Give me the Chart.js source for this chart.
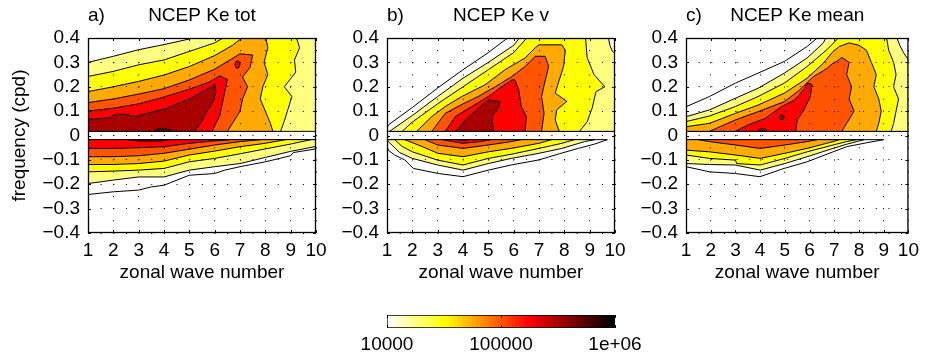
<!DOCTYPE html>
<html>
<head>
<meta charset="utf-8">
<script src="https://cdn.jsdelivr.net/npm/chart.js@4.4.1/dist/chart.umd.min.js"></script>
<style>
  html, body { margin: 0; padding: 0; background: #fff; }
  #wrap { position: relative; width: 925px; height: 360px; }
  #wrap canvas { position: absolute; left: 0; top: 0; }
</style>
</head>
<body>
<div id="wrap">
  <canvas id="pa" width="925" height="360"></canvas>
  <canvas id="pb" width="925" height="360"></canvas>
  <canvas id="pc" width="925" height="360"></canvas>
  <canvas id="cb" width="925" height="360"></canvas>
</div>
<script>
// axes
const waveNumbers = [1, 2, 3, 4, 5, 6, 7, 8, 9, 10];
const freqTicks = [-0.4, -0.3, -0.2, -0.1, 0, 0.1, 0.2, 0.3, 0.4];
// contour levels (energy), index k used below
const levels = [10000, 17783, 31623, 56234, 100000, 177828, 316228, 562341];
const colorbarTicks = [10000, 100000, 1000000];
const colorbarLabels = ['10000', '100000', '1e+06'];
const letters = ['a)', 'b)', 'c)'];
const titles = ['NCEP Ke tot', 'NCEP Ke v', 'NCEP Ke mean'];

// contour outlines: [level index, [[wave number, frequency], ...]]
const totPositive = [
  [1, [[0.9,0.017],[0.9,0.30],[1,0.30],[2,0.325],[3,0.352],[4,0.373],[5,0.396],[5.4,0.41],[10.1,0.41],[10.1,0.017]]],
  [2, [[0.9,0.017],[0.9,0.242],[1,0.242],[2,0.263],[3,0.29],[4,0.31],[5,0.345],[6,0.38],[6.5,0.41],[9.2,0.41],[9.35,0.36],[9.15,0.31],[9.2,0.26],[8.75,0.2],[9.05,0.16],[8.9,0.11],[8.75,0.06],[8.6,0.017]]],
  [3, [[0.9,0.017],[0.9,0.18],[1,0.18],[2,0.2],[3,0.222],[4,0.248],[5,0.283],[6,0.328],[6.7,0.37],[7.2,0.41],[8.0,0.41],[8.1,0.36],[7.95,0.3],[8.1,0.25],[7.9,0.2],[7.8,0.15],[8.0,0.1],[8.2,0.05],[8.3,0.017]]],
  [4, [[0.9,0.017],[0.9,0.135],[1,0.135],[2,0.15],[3,0.17],[4,0.192],[5,0.228],[6,0.272],[6.6,0.31],[7,0.335],[7.5,0.33],[7.4,0.28],[7.1,0.24],[7.3,0.2],[7.1,0.15],[7.0,0.1],[6.7,0.05],[6.5,0.017]]],
  [5, [[6.8,0.29],[6.85,0.305],[6.95,0.305],[7.0,0.29],[6.95,0.277],[6.85,0.277]]],
  [5, [[0.9,0.017],[0.9,0.1],[1,0.1],[2,0.112],[3,0.13],[4,0.158],[5,0.19],[5.8,0.22],[6.2,0.245],[6.5,0.23],[6.4,0.18],[6.3,0.13],[6.2,0.08],[6.0,0.04],[5.9,0.017]]],
  [6, [[0.9,0.017],[0.9,0.067],[1,0.067],[1.8,0.072],[2.1,0.087],[2.5,0.087],[2.8,0.078],[3,0.082],[4,0.108],[5,0.15],[5.7,0.19],[6.0,0.21],[6.05,0.18],[5.9,0.13],[5.7,0.1],[5.5,0.06],[5.2,0.017]]],
  [7, [[3.6,0.017],[3.75,0.027],[4.0,0.03],[4.25,0.022],[4.3,0.017]]]
];
const totNegative = [
  [0, [[0.9,-0.017],[0.9,-0.242],[1,-0.242],[2,-0.231],[3,-0.224],[3.5,-0.211],[4,-0.204],[5,-0.163],[6,-0.156],[6.4,-0.142],[7,-0.128],[8,-0.108],[9,-0.083],[9.1,-0.07],[10,-0.055],[10.1,-0.05],[10.1,-0.017]]],
  [1, [[0.9,-0.017],[0.9,-0.197],[1,-0.197],[2,-0.183],[3,-0.17],[4,-0.17],[5,-0.142],[6,-0.128],[7,-0.115],[8,-0.09],[9,-0.065],[10,-0.045],[10.1,-0.04],[10.1,-0.017]]],
  [2, [[0.9,-0.017],[0.9,-0.149],[1,-0.149],[2,-0.146],[3,-0.142],[4,-0.135],[5,-0.108],[6,-0.094],[7,-0.075],[8,-0.055],[9,-0.035],[9.8,-0.017]]],
  [3, [[0.9,-0.017],[0.9,-0.119],[1,-0.119],[2,-0.119],[3,-0.115],[4,-0.105],[5,-0.08],[6,-0.064],[7,-0.046],[8,-0.032],[8.8,-0.017]]],
  [4, [[0.9,-0.017],[0.9,-0.087],[1,-0.087],[2,-0.087],[3,-0.083],[4,-0.073],[5,-0.056],[6,-0.039],[7,-0.025],[7.8,-0.017]]],
  [5, [[0.9,-0.017],[0.9,-0.053],[1,-0.053],[2,-0.053],[3,-0.05],[4,-0.046],[5,-0.032],[6,-0.022],[6.6,-0.017]]],
  [6, [[2.6,-0.017],[3.0,-0.022],[3.5,-0.024],[4.0,-0.021],[4.2,-0.017]]]
];

const vPositive = [
  [0, [[0.95,0.017],[1.05,0.043],[2,0.115],[3,0.195],[4,0.27],[5,0.34],[5.5,0.38],[5.9,0.41],[10.1,0.41],[10.1,0.017]]],
  [1, [[1.1,0.017],[2,0.082],[3,0.16],[4,0.235],[5,0.3],[6,0.37],[6.3,0.41],[9.72,0.41],[9.8,0.37],[9.9,0.345],[10.1,0.33],[10.1,0.017]]],
  [2, [[1.6,0.017],[2,0.055],[3,0.13],[4,0.2],[5,0.27],[6,0.34],[6.6,0.41],[8.83,0.41],[8.9,0.32],[9.17,0.25],[9.6,0.2],[9.25,0.18],[9.1,0.113],[8.9,0.056],[8.6,0.017]]],
  [3, [[2.17,0.017],[2.77,0.078],[3.3,0.119],[3.95,0.16],[4.87,0.208],[5.66,0.27],[6.45,0.318],[6.85,0.36],[7.0,0.372],[7.9,0.372],[8.04,0.35],[7.97,0.283],[7.8,0.228],[7.64,0.174],[8.1,0.14],[7.7,0.105],[7.64,0.064],[7.8,0.017]]],
  [4, [[2.77,0.017],[3.3,0.091],[4,0.13],[4.6,0.16],[5.27,0.2],[5.93,0.242],[6.45,0.283],[6.85,0.325],[7.24,0.325],[7.38,0.283],[7.25,0.228],[7.1,0.16],[7.2,0.091],[7.1,0.017]]],
  [5, [[3.3,0.017],[3.7,0.078],[4.35,0.119],[5.0,0.16],[5.53,0.2],[5.93,0.228],[6.05,0.228],[6.2,0.187],[6.3,0.119],[6.5,0.078],[6.45,0.017]]],
  [6, [[3.7,0.017],[4.1,0.064],[4.6,0.111],[5.0,0.146],[5.47,0.139],[5.4,0.111],[5.14,0.078],[5.2,0.017]]]
];
const vNegative = [
  [0, [[0.9,-0.017],[1.0,-0.04],[1.05,-0.06],[1.3,-0.08],[1.7,-0.1],[2.04,-0.135],[3.03,-0.156],[4.0,-0.169],[5.0,-0.142],[5.9,-0.121],[7.0,-0.1],[7.8,-0.075],[8.55,-0.053],[9.2,-0.035],[9.7,-0.017]]],
  [1, [[1.02,-0.017],[1.05,-0.025],[1.5,-0.07],[2,-0.094],[3,-0.121],[4,-0.142],[5,-0.115],[5.9,-0.094],[7,-0.073],[7.9,-0.053],[8.8,-0.025],[9.2,-0.017]]],
  [2, [[1.3,-0.017],[1.6,-0.045],[2,-0.067],[3,-0.101],[4,-0.121],[5,-0.094],[5.9,-0.077],[7,-0.053],[7.9,-0.032],[8.4,-0.017]]],
  [3, [[1.7,-0.017],[2.4,-0.046],[3,-0.073],[4,-0.087],[5,-0.067],[5.9,-0.053],[7,-0.032],[7.5,-0.017]]],
  [4, [[2.5,-0.017],[3,-0.039],[4,-0.053],[5,-0.039],[5.9,-0.025],[6.3,-0.017]]],
  [5, [[3.2,-0.017],[3.6,-0.025],[4,-0.032],[4.6,-0.026],[5.1,-0.017]]],
  [6, [[3.8,-0.017],[4.0,-0.021],[4.2,-0.017]]]
];

const meanPositive = [
  [0, [[0.9,0.118],[1,0.118],[1.95,0.16],[3,0.215],[3.92,0.256],[4.98,0.304],[5.9,0.365],[6.43,0.41],[10.1,0.41],[10.1,0.017],[0.9,0.017]]],
  [1, [[0.9,0.077],[1,0.077],[1.95,0.105],[3,0.153],[3.92,0.194],[4.98,0.256],[5.9,0.318],[6.56,0.38],[6.7,0.41],[9.5,0.41],[9.65,0.37],[9.8,0.34],[10,0.31],[10.1,0.3],[10.1,0.017],[0.9,0.017]]],
  [2, [[0.9,0.057],[1,0.057],[1.95,0.08],[3,0.119],[3.92,0.16],[4.98,0.215],[5.9,0.283],[6.7,0.352],[7.1,0.393],[7.2,0.41],[9.1,0.41],[9.2,0.35],[9.4,0.3],[9.5,0.25],[9.4,0.2],[9.6,0.15],[9.5,0.1],[9.4,0.05],[9.3,0.017],[0.9,0.017]]],
  [3, [[0.9,0.036],[1,0.036],[1.95,0.05],[3,0.091],[3.92,0.125],[4.98,0.174],[5.9,0.235],[6.56,0.297],[6.95,0.345],[7.2,0.365],[7.6,0.38],[8.0,0.37],[8.3,0.35],[8.5,0.3],[8.7,0.25],[8.6,0.2],[8.8,0.15],[8.9,0.1],[8.8,0.05],[8.7,0.017],[0.9,0.017]]],
  [4, [[1.95,0.017],[3,0.064],[3.92,0.098],[4.98,0.139],[5.6,0.187],[6.16,0.242],[6.4,0.256],[6.7,0.275],[6.95,0.297],[7.1,0.304],[7.3,0.32],[7.6,0.3],[7.5,0.25],[7.7,0.2],[7.6,0.15],[7.8,0.1],[7.5,0.05],[7.3,0.017]]],
  [5, [[3.0,0.017],[3.5,0.043],[4.2,0.07],[4.85,0.118],[5.4,0.146],[5.8,0.194],[5.9,0.215],[6.1,0.21],[6.03,0.16],[5.77,0.105],[5.5,0.064],[5.44,0.017]]],
  [6, [[4.75,0.075],[4.8,0.085],[4.92,0.085],[4.97,0.075],[4.92,0.066],[4.8,0.066]]],
  [6, [[3.9,0.017],[4.0,0.028],[4.2,0.028],[4.3,0.017]]]
];
const meanNegative = [
  [0, [[0.9,-0.017],[0.9,-0.128],[1,-0.128],[1.95,-0.149],[3,-0.156],[3.99,-0.169],[4.97,-0.135],[5.9,-0.108],[6.95,-0.067],[7.5,-0.046],[8.3,-0.03],[9,-0.017]]],
  [1, [[0.9,-0.017],[0.9,-0.115],[1,-0.115],[1.95,-0.119],[3,-0.121],[4,-0.142],[5,-0.115],[5.9,-0.087],[6.95,-0.053],[7.5,-0.036],[8.2,-0.017]]],
  [2, [[0.9,-0.017],[0.9,-0.08],[1,-0.08],[1.95,-0.094],[3,-0.101],[3.05,-0.115],[4,-0.121],[5,-0.094],[5.9,-0.067],[6.95,-0.039],[7.5,-0.025],[7.9,-0.017]]],
  [3, [[0.9,-0.017],[0.9,-0.06],[1,-0.06],[1.95,-0.067],[3,-0.08],[4,-0.094],[5,-0.073],[5.9,-0.053],[6.95,-0.025],[7.2,-0.017]]],
  [4, [[1.5,-0.017],[1.95,-0.025],[3,-0.039],[4,-0.053],[5,-0.039],[5.9,-0.025],[6.3,-0.017]]]
];

const FONT = '"Liberation Sans", Arial, Helvetica, sans-serif';
Chart.defaults.font.family = FONT;
Chart.defaults.font.size = 19;
Chart.defaults.color = '#000';

// flipped "hot" colormap, t = 0 (low, white) .. 1 (high, black)
function hotReversed(t) {
  const s = 1 - t;
  const r = Math.min(1, s / 0.375);
  const g = Math.min(1, Math.max(0, (s - 0.375) / 0.375));
  const b = Math.min(1, Math.max(0, (s - 0.75) / 0.25));
  return 'rgb(' + Math.round(r * 255) + ',' + Math.round(g * 255) + ',' + Math.round(b * 255) + ')';
}
function levelColor(k) {
  return hotReversed((Math.log10(levels[k]) - 4) / 2);
}

function contourSets(list) {
  return list.map(function (c) {
    const k = c[0], pts = c[1].concat([c[1][0]]);
    return {
      data: pts.map(p => ({x: p[0], y: p[1]})),
      showLine: true,
      fill: 'shape',
      backgroundColor: levelColor(k),
      borderColor: '#000',
      borderWidth: 1,
      borderJoinStyle: 'round',
      pointRadius: 0,
      tension: 0,
      order: -k
    };
  });
}

function fmtFreq(v) {
  if (Math.abs(v) < 1e-9) return '0';
  return (v < 0 ? '\u2212' : '') + Math.abs(v).toFixed(1);
}

// box, inward ticks and the panel titles
const frameTicks = {
  id: 'frameTicks',
  afterDraw(chart, args, opts) {
    const {ctx, chartArea: a, scales: {x, y}} = chart;
    ctx.save();
    ctx.strokeStyle = '#000';
    ctx.lineWidth = 1;
    ctx.beginPath();
    x.ticks.forEach(t => {
      const px = Math.round(x.getPixelForValue(t.value)) + 0.5;
      ctx.moveTo(px, a.bottom); ctx.lineTo(px, a.bottom - 3);
      ctx.moveTo(px, a.top); ctx.lineTo(px, a.top + 3);
    });
    y.ticks.forEach(t => {
      const py = Math.round(y.getPixelForValue(t.value)) + 0.5;
      ctx.moveTo(a.left, py); ctx.lineTo(a.left + 3, py);
      ctx.moveTo(a.right, py); ctx.lineTo(a.right - 3, py);
    });
    ctx.stroke();
    ctx.lineWidth = 1.3;
    ctx.strokeRect(a.left + 0.5, a.top + 0.5, a.width - 1, a.height - 1);
    ctx.fillStyle = '#000';
    ctx.font = '19px ' + FONT;
    ctx.textBaseline = 'middle';
    ctx.textAlign = 'left';
    ctx.fillText(opts.letter, a.left, 16);
    ctx.textAlign = 'center';
    ctx.fillText(opts.title, (a.left + a.right) / 2, 16);
    ctx.restore();
  }
};

function makePanel(id, left, right, pos, neg, idx, showYTitle) {
  new Chart(document.getElementById(id), {
    type: 'scatter',
    data: {datasets: contourSets(pos).concat(contourSets(neg))},
    options: {
      responsive: false,
      animation: false,
      devicePixelRatio: 1,
      events: [],
      layout: {padding: {left: 0, top: 38, right: 925 - right, bottom: 67}},
      plugins: {
        legend: {display: false},
        tooltip: {enabled: false},
        frameTicks: {letter: letters[idx], title: titles[idx]}
      },
      scales: {
        x: {
          type: 'linear', min: 1, max: 10,
          afterBuildTicks: s => { s.ticks = waveNumbers.map(v => ({value: v})); },
          afterFit: s => { s.height = 60; },
          ticks: {padding: 6, maxRotation: 0, autoSkip: false},
          grid: {color: '#000', lineWidth: 1, drawTicks: false, z: 1},
          border: {display: false, dash: [1, 11.15]},
          title: {display: true, text: 'zonal wave number', padding: {top: 0, bottom: 9}}
        },
        y: {
          type: 'linear', min: -0.4, max: 0.4,
          afterBuildTicks: s => { s.ticks = freqTicks.map(v => ({value: v})); },
          afterFit: s => { s.width = left; },
          ticks: {padding: 8, autoSkip: false, callback: v => fmtFreq(v)},
          grid: {color: '#000', lineWidth: 1, drawTicks: false, z: 1},
          border: {display: false, dash: [1, 11.65]},
          title: {display: showYTitle, text: 'frequency (cpd)', padding: {top: 8, bottom: 0}}
        }
      }
    },
    plugins: [frameTicks]
  });
}

makePanel('pa', 88, 316, totPositive, totNegative, 0, true);
makePanel('pb', 387, 615, vPositive, vNegative, 1, false);
makePanel('pc', 686, 914, meanPositive, meanNegative, 2, false);

// colour bar
function colorbarFill(ctx) {
  const chart = ctx.chart;
  const xs = chart.scales.x;
  if (!chart.chartArea || !xs) return '#fff';
  const x0 = xs.getPixelForValue(colorbarTicks[0]);
  const x1 = xs.getPixelForValue(colorbarTicks[colorbarTicks.length - 1]);
  const g = chart.ctx.createLinearGradient(x0, 0, x1, 0);
  const n = 64;
  for (let i = 0; i < n; i++) {
    const c = hotReversed(i / (n - 1));
    g.addColorStop(i / n, c);
    g.addColorStop((i + 1) / n, c);
  }
  return g;
}

const colorbarTickMarks = {
  id: 'colorbarTickMarks',
  afterDraw(chart) {
    const {ctx, chartArea: a, scales: {x}} = chart;
    ctx.save();
    ctx.strokeStyle = '#000';
    ctx.lineWidth = 1;
    ctx.beginPath();
    colorbarTicks.forEach(v => {
      const px = Math.round(x.getPixelForValue(v)) + 0.5;
      ctx.moveTo(px, a.top); ctx.lineTo(px, a.top + 3);
      ctx.moveTo(px, a.bottom); ctx.lineTo(px, a.bottom - 3);
    });
    ctx.stroke();
    ctx.restore();
  }
};

new Chart(document.getElementById('cb'), {
  type: 'bar',
  data: {
    labels: [''],
    datasets: [{
      data: [[colorbarTicks[0], colorbarTicks[colorbarTicks.length - 1]]],
      backgroundColor: colorbarFill,
      borderColor: '#000',
      borderWidth: 1,
      borderSkipped: false,
      barPercentage: 1,
      categoryPercentage: 1
    }]
  },
  options: {
    indexAxis: 'y',
    responsive: false,
    animation: false,
    devicePixelRatio: 1,
    events: [],
    layout: {padding: {left: 387, right: 310, top: 315, bottom: 0}},
    plugins: {legend: {display: false}, tooltip: {enabled: false}},
    scales: {
      x: {
        type: 'logarithmic', min: colorbarTicks[0], max: colorbarTicks[colorbarTicks.length - 1],
        afterBuildTicks: s => { s.ticks = colorbarTicks.map(v => ({value: v})); },
        afterFit: s => { s.height = 32; },
        ticks: {padding: 5, maxRotation: 0, autoSkip: false, callback: (v, i) => colorbarLabels[i]},
        grid: {display: false, drawTicks: false},
        border: {display: false}
      },
      y: {display: false}
    }
  },
  plugins: [colorbarTickMarks]
});
</script>
</body>
</html>
